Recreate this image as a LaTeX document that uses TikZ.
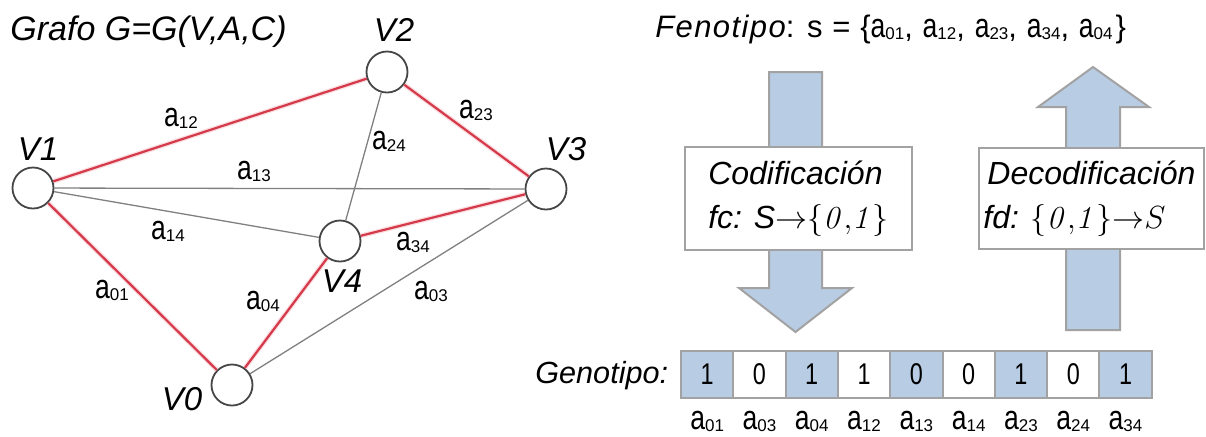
\documentclass[tikz,border=0pt]{standalone}
\usepackage{fix-cm}
\usepackage[no-math]{fontspec}
\setmainfont{Liberation Sans}
\newfontfamily\narrowsf{Liberation Sans}[FakeStretch=0.78]

\definecolor{edgered}{RGB}{212,58,74}
\definecolor{edgehalo}{RGB}{244,180,188}
\definecolor{edgegray}{RGB}{128,128,128}
\definecolor{ring}{RGB}{70,70,70}
\definecolor{blockfill}{RGB}{184,204,228}
\definecolor{blockline}{RGB}{162,162,162}

% arc label a_{ij}: condensed "a" with a small lowered index
\newcommand\edgelab[1]{{\narrowsf\fontsize{17pt}{17pt}\selectfont a}\raisebox{-1pt}{\fontsize{8.5pt}{8.5pt}\selectfont #1}}
% the binary set {0,1}, set tight
\newcommand\bits{\{\mathit{0{,}1}\}}

\begin{document}
\begin{tikzpicture}[x=0.5pt,y=-0.5pt,
  vert/.style={circle,draw=ring,line width=0.9pt,fill=white,minimum size=20.5pt,inner sep=0pt},
  vlab/.style={font=\fontsize{16.5pt}{16.5pt}\selectfont\itshape,inner sep=0pt},
  elab/.style={inner sep=0pt},
  title/.style={inner sep=0pt},
  chosenhalo/.style={draw=edgehalo,line width=2.4pt,opacity=0.45},
  chosen/.style={draw=edgered,line width=1.1pt},
  other/.style={draw=edgegray,line width=0.65pt},
  block/.style={fill=blockfill,draw=blockline,line width=1pt,line join=miter},
  funbox/.style={draw=blockline,line width=0.8pt,fill=white,align=left,inner sep=0pt,
    font=\fontsize{16pt}{22pt}\selectfont\itshape},
  cell/.style={draw=blockline,line width=1pt,minimum width=26.15pt,minimum height=23.5pt,
    inner sep=0pt,font=\narrowsf\fontsize{15pt}{15pt}\selectfont},
]
\useasboundingbox (0,0) rectangle (1206,436);

% ---------- graph ----------
\node[title,anchor=base west,font=\fontsize{17pt}{17pt}\selectfont\itshape] (gtitle) at (10,40) {Grafo G=G(V,A,C)};

\node[vert] (v0) at (232,385) {};
\node[vert] (v1) at (33,188) {};
\node[vert] (v2) at (387,72) {};
\node[vert] (v3) at (546,189) {};
\node[vert] (v4) at (340,241) {};

\node[vlab] (n0) at (182,399) {V0};
\node[vlab] (n1) at (38,149) {V1};
\node[vlab] (n2) at (394,30) {V2};
\node[vlab] (n3) at (566,149) {V3};
\node[vlab] (n4) at (342,281) {V4};

% arcs not in the solution
\draw[other] (v1) -- (v3);
\draw[other] (v1) -- (v4);
\draw[other] (v2) -- (v4);
\draw[other] (v0) -- (v3);

% arcs of the solution
\foreach \a/\b in {v1/v2,v2/v3,v1/v0,v0/v4,v4/v3}{
  \draw[chosenhalo] (\a) -- (\b);
  \draw[chosen] (\a) -- (\b);
}

\node[elab] (e12) at (181,118) {\edgelab{12}};
\node[elab] (e23) at (476,110) {\edgelab{23}};
\node[elab] (e24) at (389,141) {\edgelab{24}};
\node[elab] (e13) at (254,171) {\edgelab{13}};
\node[elab] (e14) at (168,231) {\edgelab{14}};
\node[elab] (e34) at (413,242) {\edgelab{34}};
\node[elab] (e01) at (112,290) {\edgelab{01}};
\node[elab] (e04) at (263,301) {\edgelab{04}};
\node[elab] (e03) at (431,291) {\edgelab{03}};

% ---------- phenotype ----------
\node[title,anchor=base west,font=\fontsize{15.5pt}{15.5pt}\selectfont] (feno) at (655,37)
  {\spaceskip=4.9pt\relax{\itshape\addfontfeature{LetterSpace=4.5}Fenotipo}: s = \{\edgelab{01}, \edgelab{12}, \edgelab{23}, \edgelab{34}, \edgelab{04}\hspace{1.5pt}\}};

% coding arrow (down) and decoding arrow (up)
\draw[block] (769,72) -- (822,72) -- (822,288) -- (852,288) -- (795.5,332)
  -- (739,288) -- (769,288) -- cycle;
\draw[block] (1066,330) -- (1066,107) -- (1038,107) -- (1093,67) -- (1149,107)
  -- (1120,107) -- (1120,330) -- cycle;

\node[funbox,minimum width=113.5pt,minimum height=51.5pt] (cod) at (798.5,198.5)
  {Codificación\\ fc: S$\mathord{\rightarrow}\bits$};
\node[funbox,minimum width=112.5pt,minimum height=50.5pt] (dec) at (1091.5,198.5)
  {Decodificación\\ \hspace*{-2pt}fd: $\bits\mathord{\rightarrow}S$};

% ---------- genotype ----------
\node[title,anchor=base west,font=\fontsize{15.3pt}{15.3pt}\selectfont\itshape] (geno) at (535,383) {Genotipo:};

\foreach \d/\c [count=\i] in {1/blockfill,0/white,1/blockfill,1/white,0/blockfill,0/white,1/blockfill,0/white,1/blockfill}{
  \node[cell,fill=\c] (g\i) at ({681+52.3*(\i-0.5)},374.5) {\d};
}
\foreach \l [count=\i] in {01,03,04,12,13,14,23,24,34}{
  \node[elab,anchor=base] (lab\i) at ({681+52.3*(\i-0.5)},429) {\edgelab{\l}};
}
\end{tikzpicture}
\end{document}
